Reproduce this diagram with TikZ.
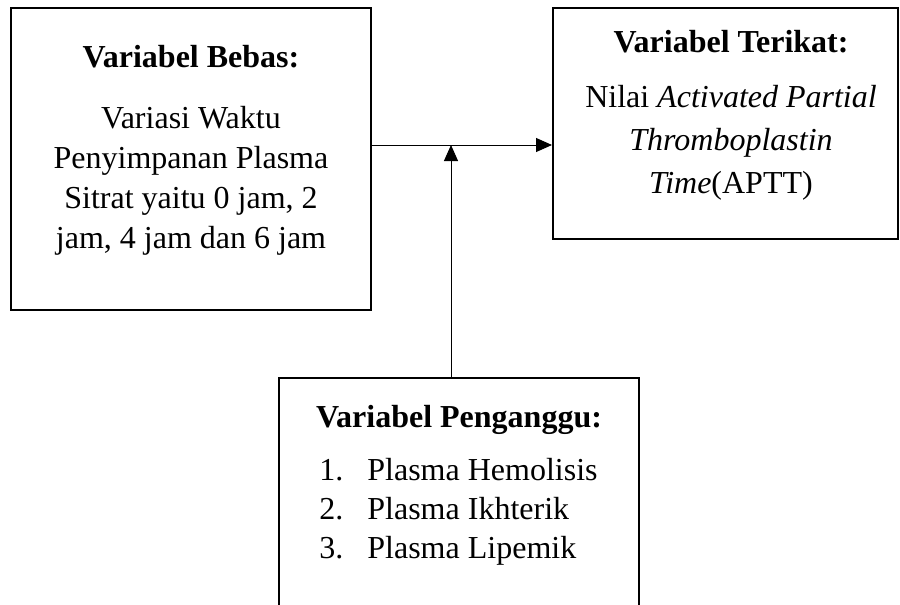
\documentclass[tikz,border=0pt]{standalone}
\usepackage{fontspec}
\setmainfont{Liberation Serif}
\usetikzlibrary{positioning, arrows.meta}
\tikzset{
    kotak/.style  = {draw, line width=1pt, inner sep=0pt},
    judul/.style  = {font=\fontsize{16}{20}\selectfont\bfseries, anchor=base, inner sep=0pt},
    isi/.style    = {font=\fontsize{16}{20}\selectfont, align=center, anchor=north, inner sep=0pt},
    daftar/.style = {isi, align=left, anchor=north west},
    panah/.style  = {-{Triangle[length=8pt, width=7pt]}, line width=0.5pt}
}
\newcommand{\butir}[1]{\makebox[24pt][l]{#1}}

\begin{document}
\begin{tikzpicture}[x=0.5pt, y=-0.5pt]
    \clip (0,0) rectangle (900,605);

    \node[kotak, minimum width=180pt, minimum height=151pt] (bebas) at (191,159) {};
    \node[kotak, minimum width=172.5pt, minimum height=115.5pt] (terikat) at (725.5,123.5) {};
    \node[kotak, minimum width=180pt, minimum height=131pt] (ganggu) at (459,509) {};

    \node[judul] (bebasjudul) at (191,67) {Variabel Bebas:};
    \node[isi] (bebasisi) at (191,106)
        {Variasi Waktu\\Penyimpanan Plasma\\Sitrat yaitu 0 jam, 2\\jam, 4 jam dan 6 jam};

    \node[judul] (terikatjudul) at (731,52) {Variabel Terikat:};
    \node[isi, font=\fontsize{16}{21.5}\selectfont] (terikatisi) at (731,85)
        {Nilai \textit{Activated Partial}\\\textit{Thromboplastin}\\\textit{Time}(APTT)};

    \node[judul] (ganggujudul) at (459,427) {Variabel Penganggu:};
    \node[daftar, font=\fontsize{16}{19.5}\selectfont] (ganggudaftar) at (319,458)
        {\butir{1.}Plasma Hemolisis\\\butir{2.}Plasma Ikhterik\\\butir{3.}Plasma Lipemik};

    \draw[panah] ([yshift=7pt]bebas.east) coordinate (pangkal) -- (pangkal -| terikat.west);
    \draw[panah] ([xshift=-4pt]ganggu.north) coordinate (kaki) -- (kaki |- pangkal);
\end{tikzpicture}
\end{document}
